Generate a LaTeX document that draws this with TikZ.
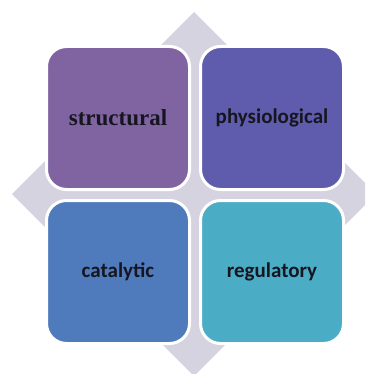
\documentclass[tikz,border=0pt]{standalone}
\usepackage{fontspec}
\newfontfamily\tilesans{Carlito}
\newfontfamily\tileserif{Liberation Serif}
\definecolor{backdrop}{HTML}{D6D3E1}
\definecolor{tileA}{HTML}{8064A2}
\definecolor{tileB}{HTML}{605CAD}
\definecolor{tileC}{HTML}{4F7BBD}
\definecolor{tileD}{HTML}{4BACC6}
\definecolor{labelink}{HTML}{161620}
\begin{document}
\begin{tikzpicture}[x=1pt,y=-1pt,
  tile/.style={rectangle, rounded corners=20pt, draw=white, line width=3pt,
    minimum width=143pt, minimum height=143pt, inner sep=0pt,
    text=labelink, font=\tilesans\bfseries\fontsize{21}{24}\selectfont}]
\useasboundingbox (0,0) rectangle (365,374);
\begin{scope}
  \clip (0,0) rectangle (365,374);
  % light diamond behind the matrix
  \fill[backdrop] (194,12) -- (376,194) -- (194,376) -- (12,194) -- cycle;
\end{scope}
% the four quadrant tiles
\node[tile, fill=tileA, font=\tileserif\bfseries\fontsize{23}{26}\selectfont] (structural) at (118,118) {structural};
\node[tile, fill=tileB] (physiological) at (272,118) {physiological};
\node[tile, fill=tileC] (catalytic) at (118,272) {catalytic};
\node[tile, fill=tileD] (regulatory) at (272,272) {regulatory};
\end{tikzpicture}
\end{document}
